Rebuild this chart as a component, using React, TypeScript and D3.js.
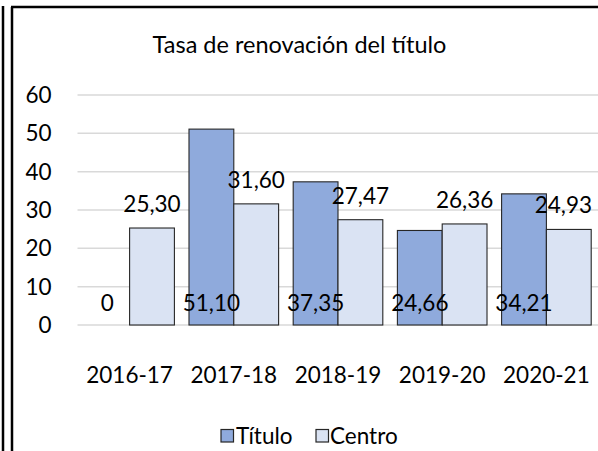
import { useEffect, useRef } from 'react';
import * as d3 from 'd3';

// datos
const categories = ['2016-17', '2017-18', '2018-19', '2019-20', '2020-21'];
const seriesNames = ['Título', 'Centro'];
const tituloValues = [0, 51.1, 37.35, 24.66, 34.21];
const centroValues = [25.3, 31.6, 27.47, 26.36, 24.93];
const yTicks = [0, 10, 20, 30, 40, 50, 60];

const colors = { 'Título': '#8faadc', 'Centro': '#dae3f3' };
const FONT = 'Lato, "Noto Sans", sans-serif';
const fmt = (v: number) => (v === 0 ? '0' : v.toFixed(2).replace('.', ','));

export default function App() {
  const svgRef = useRef<SVGSVGElement | null>(null);

  useEffect(() => {
    const width = 598;
    const height = 451;
    const svg = d3.select(svgRef.current).attr('width', width).attr('height', height);
    svg.selectAll('*').remove();

    svg.append('rect').attr('width', width).attr('height', height).attr('fill', '#fff');

    // marco (recortado a la derecha y abajo)
    const frame = svg.append('g').attr('stroke', '#000').attr('stroke-width', 2.5).attr('fill', 'none');
    frame.append('line').attr('x1', 3).attr('y1', 6).attr('x2', 3).attr('y2', height);
    frame.append('line').attr('x1', 12).attr('y1', 7).attr('x2', 12).attr('y2', height);
    frame.append('line').attr('x1', 11).attr('y1', 7).attr('x2', width).attr('y2', 7);

    const plotLeft = 77.5;
    const plotRight = 598.5;
    const y = d3.scaleLinear().domain([0, 60]).range([325, 95]);
    const x0 = d3.scaleBand<string>().domain(categories).range([plotLeft, plotRight])
      .paddingInner(0.14).paddingOuter(0.07);
    const x1 = d3.scaleBand<string>().domain(seriesNames).range([0, x0.bandwidth()]);

    // título
    svg.append('text')
      .attr('x', 299.5).attr('y', 45).attr('dy', '0.35em')
      .attr('text-anchor', 'middle')
      .style('font-family', FONT).style('font-size', '23.5px').style('fill', '#000')
      .text('Tasa de renovación del título');

    // rejilla y eje y
    const grid = svg.append('g');
    grid.selectAll('line').data(yTicks).join('line')
      .attr('x1', plotLeft).attr('x2', plotRight)
      .attr('y1', d => y(d)).attr('y2', d => y(d))
      .attr('stroke', '#d9d9d9').attr('stroke-width', 1.5);
    svg.append('g').selectAll('text').data(yTicks).join('text')
      .attr('x', 51.5).attr('y', d => y(d)).attr('dy', '0.35em')
      .attr('text-anchor', 'end')
      .style('font-family', FONT).style('font-size', '22.5px').style('fill', '#000')
      .text(d => d);

    const rows = categories.map((c, i) => ({ cat: c, 'Título': tituloValues[i], 'Centro': centroValues[i] }));

    const groups = svg.append('g').selectAll('g').data(rows).join('g')
      .attr('transform', d => `translate(${x0(d.cat)},0)`);

    groups.selectAll('rect')
      .data(d => seriesNames.map(k => ({ key: k, value: (d as any)[k] as number })))
      .join('rect')
      .attr('x', d => x1(d.key)!)
      .attr('width', x1.bandwidth())
      .attr('y', d => y(d.value))
      .attr('height', d => y(0) - y(d.value))
      .attr('fill', d => (colors as any)[d.key])
      .attr('stroke', d => (d.value === 0 ? 'none' : '#262626'))
      .attr('stroke-width', 1.1);

    // etiquetas: Título en la base interior, Centro sobre la barra
    const labels = svg.append('g')
      .style('font-family', FONT).style('font-size', '22.5px').style('fill', '#000');

    labels.selectAll('text.tit').data(rows).join('text')
      .attr('class', 'tit')
      .attr('x', d => x0(d.cat)! + x1('Título')! + x1.bandwidth() / 2)
      .attr('y', y(0) - 22).attr('dy', '0.35em')
      .attr('text-anchor', 'middle')
      .text(d => fmt(d['Título']));

    const limit = 592;
    labels.selectAll('text.cen').data(rows).join('text')
      .attr('class', 'cen')
      .attr('x', d => x0(d.cat)! + x1('Centro')! + x1.bandwidth() / 2)
      .attr('y', d => y(d['Centro']) - 24).attr('dy', '0.35em')
      .attr('text-anchor', 'middle')
      .text(d => fmt(d['Centro']))
      .each(function () {
        const el = this as SVGTextElement;
        const b = el.getBBox();
        if (b.x + b.width > limit) {
          el.setAttribute('x', String(limit - b.width / 2));
        }
      });

    // eje x
    svg.append('g').selectAll('text').data(categories).join('text')
      .attr('x', d => x0(d)! + x0.bandwidth() / 2)
      .attr('y', 375).attr('dy', '0.35em')
      .attr('text-anchor', 'middle')
      .style('font-family', FONT).style('font-size', '22.5px').style('fill', '#000')
      .text(d => d);

    // leyenda
    const legendItems = [
      { key: 'Título', sq: 221, tx: 236 },
      { key: 'Centro', sq: 316, tx: 330 },
    ];
    const legend = svg.append('g');
    legend.selectAll('rect').data(legendItems).join('rect')
      .attr('x', d => d.sq).attr('y', 429.5)
      .attr('width', 12.5).attr('height', 12.5)
      .attr('fill', d => (colors as any)[d.key])
      .attr('stroke', '#262626').attr('stroke-width', 1.2);
    legend.selectAll('text').data(legendItems).join('text')
      .attr('x', d => d.tx).attr('y', 436).attr('dy', '0.35em')
      .style('font-family', FONT).style('font-size', '22.5px').style('fill', '#000')
      .text(d => d.key);
  }, []);

  return (
    <svg ref={svgRef} style={{ position: 'absolute', left: 0, top: 0, display: 'block' }} />
  );
}
